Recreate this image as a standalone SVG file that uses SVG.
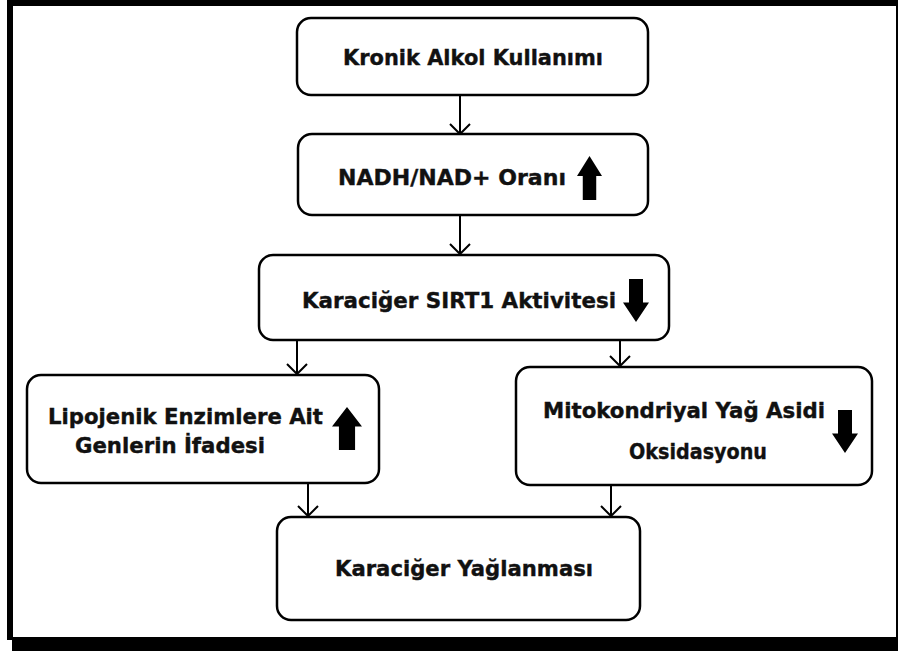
<svg xmlns="http://www.w3.org/2000/svg" width="898" height="651" viewBox="0 0 898 651">
<style>
.box{fill:#fff;stroke:#000;stroke-width:2.5}
.t{font-family:"DejaVu Sans","Liberation Sans",sans-serif;font-weight:bold;font-size:22px;fill:#111;stroke:#111;stroke-width:0.4}
.c{stroke:#000;stroke-width:2;fill:none}
</style>
<defs>
<marker id="ah" markerUnits="userSpaceOnUse" markerWidth="24" markerHeight="24" refX="11" refY="11" orient="auto">
<path d="M1,1 L11,11 L1,21" fill="none" stroke="#000" stroke-width="2"/>
</marker>
<symbol id="up" viewBox="0 0 26 44" preserveAspectRatio="none">
<polygon points="13,0 26,20 20,20 20,44 6,44 6,20 0,20" fill="#000"/>
</symbol>
<symbol id="down" viewBox="0 0 26 44" preserveAspectRatio="none">
<polygon points="13,44 26,24 20,24 20,0 6,0 6,24 0,24" fill="#000"/>
</symbol>
</defs>
<rect width="898" height="651" fill="#fff"/>
<g id="frame">
<rect x="7" y="0" width="890" height="6" fill="#000"/>
<rect x="7" y="0" width="6" height="640" fill="#000"/>
<rect x="896" y="0" width="2" height="640" fill="#000"/>
<rect x="12" y="637" width="886" height="14" fill="#000"/>
</g>
<g id="connectors">
<line class="c" x1="460" y1="95" x2="460" y2="134" marker-end="url(#ah)"/>
<line class="c" x1="460" y1="215" x2="460" y2="254" marker-end="url(#ah)"/>
<line class="c" x1="297" y1="340" x2="297" y2="374" marker-end="url(#ah)"/>
<line class="c" x1="620" y1="340" x2="620" y2="366" marker-end="url(#ah)"/>
<line class="c" x1="308" y1="483" x2="308" y2="516" marker-end="url(#ah)"/>
<line class="c" x1="611" y1="485" x2="611" y2="516" marker-end="url(#ah)"/>
</g>
<g id="n1">
<rect class="box" x="297" y="18" width="351" height="77" rx="14"/>
<text class="t" x="473" y="65" text-anchor="middle" textLength="260" lengthAdjust="spacingAndGlyphs">Kronik Alkol Kullanımı</text>
</g>
<g id="n2">
<rect class="box" x="298" y="134" width="350" height="81" rx="14"/>
<text class="t" x="452" y="185" text-anchor="middle" textLength="228" lengthAdjust="spacingAndGlyphs">NADH/NAD+ Oranı</text>
<use href="#up" x="577" y="156" width="25" height="44"/>
</g>
<g id="n3">
<rect class="box" x="259" y="255" width="410" height="85" rx="14"/>
<text class="t" x="459" y="308" text-anchor="middle" textLength="314" lengthAdjust="spacingAndGlyphs">Karaciğer SIRT1 Aktivitesi</text>
<use href="#down" x="623" y="279" width="26" height="43"/>
</g>
<g id="n4">
<rect class="box" x="27" y="375" width="352" height="108" rx="14"/>
<text class="t" x="185.5" y="424" text-anchor="middle" textLength="275" lengthAdjust="spacingAndGlyphs">Lipojenik Enzimlere Ait</text>
<text class="t" x="170" y="453" text-anchor="middle" textLength="190" lengthAdjust="spacingAndGlyphs">Genlerin İfadesi</text>
<use href="#up" x="332" y="407" width="30" height="43"/>
</g>
<g id="n5">
<rect class="box" x="516" y="367" width="356" height="118" rx="14"/>
<text class="t" x="684" y="418" text-anchor="middle" textLength="282" lengthAdjust="spacingAndGlyphs">Mitokondriyal Yağ Asidi</text>
<text class="t" x="698" y="459" text-anchor="middle" textLength="138" lengthAdjust="spacingAndGlyphs">Oksidasyonu</text>
<use href="#down" x="832" y="410" width="26" height="43"/>
</g>
<g id="n6">
<rect class="box" x="277" y="517" width="363" height="103" rx="14"/>
<text class="t" x="464" y="576" text-anchor="middle" textLength="258" lengthAdjust="spacingAndGlyphs">Karaciğer Yağlanması</text>
</g>
</svg>
